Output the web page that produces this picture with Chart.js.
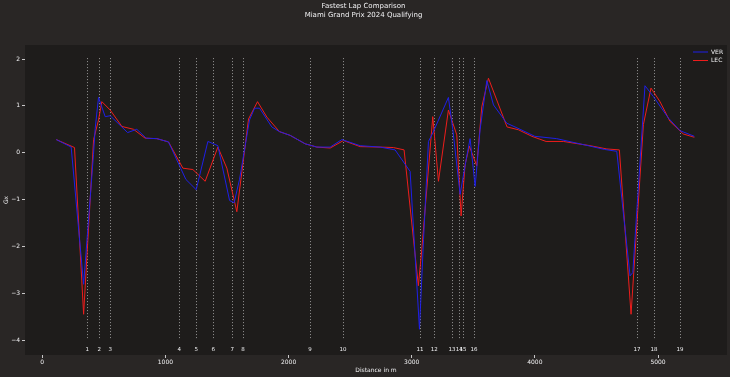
<!DOCTYPE html>
<html>
<head>
<meta charset="utf-8">
<script src="https://cdn.jsdelivr.net/npm/chart.js@4.4.1/dist/chart.umd.min.js"></script>
<style>
  html, body { margin: 0; padding: 0; background: #292625; }
  #wrap { width: 730px; height: 377px; }
</style>
</head>
<body>
<div id="wrap"><canvas id="lapChart" width="730" height="377"></canvas></div>
<script>
// VER telemetry (distance in m, Gx)
const verDist = [114, 235, 336, 416, 430, 457, 511, 552, 693, 768, 844, 931, 1025, 1166, 1250, 1345, 1426, 1521, 1558, 1602, 1683, 1724, 1764, 1864, 1926, 2013, 2135, 2230, 2338, 2433, 2581, 2744, 2865, 2987, 3063, 3096, 3136, 3171, 3298, 3334, 3393, 3442, 3474, 3515, 3555, 3610, 3664, 3772, 3880, 4000, 4177, 4432, 4565, 4665, 4773, 4795, 4894, 4962, 5084, 5179, 5295];
const verGx = [0.28, 0.12, -2.81, -0.04, 0.52, 1.18, 0.77, 0.79, 0.43, 0.50, 0.31, 0.30, 0.23, -0.57, -0.79, 0.24, 0.15, -1.02, -1.07, -0.57, 0.70, 0.95, 0.95, 0.55, 0.45, 0.37, 0.19, 0.12, 0.12, 0.28, 0.15, 0.12, 0.06, -0.40, -3.77, -1.85, 0.24, 0.42, 1.18, 0.49, -0.89, -0.15, 0.30, -0.72, 0.49, 1.54, 1.02, 0.63, 0.50, 0.35, 0.30, 0.15, 0.07, 0.03, -2.63, -2.56, 1.43, 1.20, 0.74, 0.47, 0.35];

// LEC telemetry
const lecDist = [114, 262, 336, 417, 457, 484, 552, 647, 741, 836, 931, 1025, 1142, 1223, 1323, 1426, 1499, 1580, 1675, 1748, 1824, 1926, 2013, 2135, 2230, 2338, 2446, 2581, 2744, 2851, 2938, 3054, 3082, 3171, 3217, 3298, 3366, 3401, 3433, 3468, 3528, 3569, 3623, 3774, 3866, 3976, 4091, 4232, 4448, 4584, 4686, 4781, 4881, 4943, 5016, 5097, 5205, 5295];
const lecGx = [0.28, 0.11, -3.45, 0.28, 0.70, 1.09, 0.91, 0.56, 0.50, 0.31, 0.30, 0.23, -0.33, -0.36, -0.61, 0.12, -0.33, -1.26, 0.72, 1.09, 0.76, 0.45, 0.37, 0.19, 0.12, 0.10, 0.26, 0.13, 0.12, 0.11, 0.06, -2.84, -2.06, 0.77, -0.61, 0.91, 0.38, -1.35, -0.26, 0.14, -0.28, 0.98, 1.59, 0.55, 0.49, 0.35, 0.24, 0.24, 0.15, 0.08, 0.06, -3.45, 0.60, 1.38, 1.09, 0.67, 0.40, 0.33];

// corners
const cornerNumbers = ['1', '2', '3', '4', '5', '6', '7', '8', '9', '10', '11', '12', '13', '14', '15', '16', '17', '18', '19'];
const cornerDist = [365, 463, 552, 1112, 1250, 1388, 1542, 1631, 2175, 2443, 3068, 3182, 3328, 3385, 3417, 3506, 4830, 4968, 5179];

// axis ticks
const xTicks = [0, 1000, 2000, 3000, 4000, 5000];
const yTicks = [-4, -3, -2, -1, 0, 1, 2];

const textColor = '#f1f1f3';
const fontFamily = 'DejaVu Sans';

function toPoints(xs, ys) {
    return xs.map((x, i) => ({ x: x, y: ys[i] }));
}

// dotted corner lines + corner numbers, placed through the chart scales
const cornerPlugin = {
    id: 'corners',
    beforeDatasetsDraw(chart) {
        const { ctx, scales: { x, y } } = chart;
        ctx.save();
        ctx.strokeStyle = 'rgba(190,190,190,0.75)';
        ctx.lineWidth = 1;
        ctx.setLineDash([1, 2]);
        cornerDist.forEach(d => {
            const px = Math.round(x.getPixelForValue(d)) + 0.5;
            ctx.beginPath();
            ctx.moveTo(px, y.getPixelForValue(2.02));
            ctx.lineTo(px, y.getPixelForValue(-4.0));
            ctx.stroke();
        });
        ctx.restore();
    },
    afterDatasetsDraw(chart) {
        const { ctx, scales: { x, y } } = chart;
        ctx.save();
        ctx.fillStyle = textColor;
        ctx.font = '5.5px "' + fontFamily + '"';
        ctx.textAlign = 'center';
        ctx.textBaseline = 'middle';
        cornerDist.forEach((d, i) => {
            ctx.fillText(cornerNumbers[i], x.getPixelForValue(d), y.getPixelForValue(-4.21));
        });
        ctx.restore();
    }
};

// move the legend into the upper right corner of the plot
const legendPlacer = {
    id: 'legendPlacer',
    afterLayout(chart) {
        const lg = chart.legend;
        if (!lg) return;
        const pad = lg.options.labels.padding;
        const w = lg.width, h = lg.height;
        lg.left = 693 - pad;
        lg.right = lg.left + w;
        lg.top = 49 - pad;
        lg.bottom = lg.top + h;
    }
};

const bgPlugin = {
    id: 'bg',
    beforeDraw(chart) {
        const { ctx, chartArea: a } = chart;
        ctx.save();
        ctx.fillStyle = '#292625';
        ctx.fillRect(0, 0, chart.width, chart.height);
        ctx.fillStyle = '#1e1c1b';
        ctx.fillRect(a.left, a.top, a.right - a.left, a.bottom - a.top);
        ctx.restore();
    }
};

const ctx = document.getElementById('lapChart').getContext('2d');
new Chart(ctx, {
    type: 'line',
    data: {
        datasets: [{
            label: 'VER',
            data: toPoints(verDist, verGx),
            borderColor: '#1f1fe6',
            backgroundColor: '#1f1fe6',
            borderWidth: 1,
            pointRadius: 0,
            tension: 0,
            fill: false
        }, {
            label: 'LEC',
            data: toPoints(lecDist, lecGx),
            borderColor: '#ee1c1c',
            backgroundColor: '#ee1c1c',
            borderWidth: 1,
            pointRadius: 0,
            tension: 0,
            fill: false
        }]
    },
    options: {
        responsive: false,
        animation: false,
        events: [],
        layout: { padding: { left: 0, right: 3, top: 0, bottom: 0 } },
        scales: {
            x: {
                type: 'linear',
                min: -140,
                max: 5560,
                afterFit: s => { s.height = 22; },
                afterBuildTicks: s => { s.ticks = xTicks.map(v => ({ value: v })); },
                border: { display: false },
                grid: { drawOnChartArea: false, drawTicks: true, tickLength: 3, tickColor: textColor, lineWidth: 0.8 },
                ticks: {
                    padding: 1,
                    color: textColor,
                    font: { family: fontFamily, size: 6 },
                    maxRotation: 0,
                    autoSkip: false,
                    callback: v => String(v)
                },
                title: {
                    display: true,
                    text: 'Distance in m',
                    color: textColor,
                    font: { family: fontFamily, size: 6 },
                    padding: { top: 0, bottom: 3 }
                }
            },
            y: {
                type: 'linear',
                min: -4.32,
                max: 2.3,
                afterFit: s => { s.width = 25; },
                afterBuildTicks: s => { s.ticks = yTicks.map(v => ({ value: v })); },
                border: { display: false },
                grid: { drawOnChartArea: false, drawTicks: true, tickLength: 3, tickColor: textColor, lineWidth: 0.8 },
                ticks: {
                    padding: 2,
                    color: textColor,
                    font: { family: fontFamily, size: 6 },
                    autoSkip: false,
                    callback: v => (v < 0 ? '\u2212' + Math.abs(v) : String(v))
                },
                title: {
                    display: true,
                    text: 'Gx',
                    color: textColor,
                    font: { family: fontFamily, size: 6 },
                    padding: { top: 3, bottom: 0 }
                }
            }
        },
        plugins: {
            title: {
                display: true,
                text: ['Fastest Lap Comparison', 'Miami Grand Prix 2024 Qualifying'],
                color: textColor,
                font: { family: fontFamily, size: 7, weight: 'normal', lineHeight: 1.3 },
                padding: { top: 2, bottom: 24.8 }
            },
            legend: {
                display: true,
                position: 'chartArea',
                align: 'start',
                labels: {
                    color: textColor,
                    font: { family: fontFamily, size: 6 },
                    usePointStyle: true,
                    pointStyle: 'line',
                    pointStyleWidth: 15,
                    padding: 2.5
                }
            },
            tooltip: { enabled: false }
        }
    },
    plugins: [bgPlugin, cornerPlugin, legendPlacer]
});
</script>
</body>
</html>
